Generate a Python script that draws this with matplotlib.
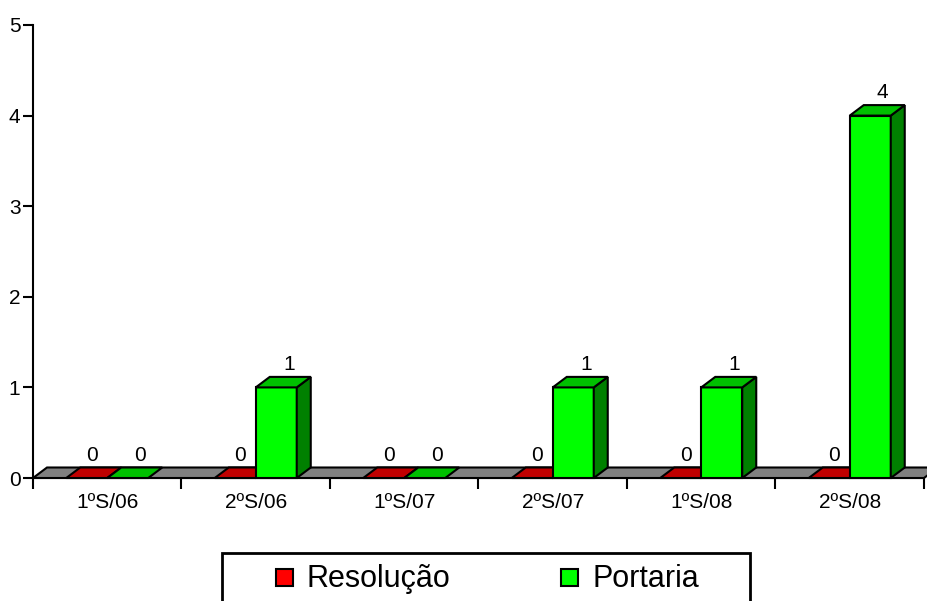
import matplotlib
matplotlib.use("Agg")
import matplotlib.pyplot as plt
from matplotlib.patches import Polygon, Rectangle

categories = ["1ºS/06", "2ºS/06", "1ºS/07", "2ºS/07", "1ºS/08", "2ºS/08"]
resolucao = [0, 0, 0, 0, 0, 0]
portaria = [0, 1, 0, 1, 1, 4]
series_names = ["Resolução", "Portaria"]
yticks = [0, 1, 2, 3, 4, 5]

plt.rcParams['font.family'] = ['Liberation Sans', 'DejaVu Sans']

W, H = 928, 601
fig = plt.figure(figsize=(W / 100, H / 100), dpi=100)
ax = fig.add_axes([33 / W, (H - 478) / H, 891 / W, (478 - 25) / H])
ax.set_xlim(0, len(categories))
ax.set_ylim(0, 5)

# 3D depth offset (in data units)
dx = 14 / 148.5
dy = 10.5 / 90.6
bw = 41 / 148.5

series = [
    (resolucao, "#FF0000", "#C00000", "#800000", -1.5),
    (portaria, "#00FF00", "#00C000", "#008000", 4.0),
]

lw = 1.5
# floor
ax.add_patch(Polygon([(0, 0), (len(categories), 0), (len(categories) + dx, dy), (dx, dy)],
                     closed=True, facecolor="#808080", edgecolor="black", lw=lw,
                     clip_on=False, zorder=1))

for i, cat in enumerate(categories):
    c = i + 0.5
    for j, (vals, front, top, side, lab_dx) in enumerate(series):
        v = vals[i]
        x0 = c - bw + j * bw
        z = 2 + i * 2 + j
        if v > 0:
            ax.add_patch(Rectangle((x0, 0), bw, v, facecolor=front, edgecolor="black",
                                   lw=lw, clip_on=False, zorder=z))
            ax.add_patch(Polygon([(x0 + bw, 0), (x0 + bw + dx, dy), (x0 + bw + dx, v + dy), (x0 + bw, v)],
                                 closed=True, facecolor=side, edgecolor="black", lw=lw,
                                 clip_on=False, zorder=z))
        ax.add_patch(Polygon([(x0, v), (x0 + bw, v), (x0 + bw + dx, v + dy), (x0 + dx, v + dy)],
                             closed=True, facecolor=top, edgecolor="black", lw=lw,
                             clip_on=False, zorder=z))
        ax.annotate(str(v), (x0 + bw / 2 + dx / 2, v + dy), xytext=(lab_dx, 2),
                    textcoords="offset points", ha="center", va="bottom",
                    fontsize=15, zorder=30)

for s in ["top", "right"]:
    ax.spines[s].set_visible(False)
ax.spines["left"].set_linewidth(1.5)
ax.spines["bottom"].set_linewidth(1.5)
ax.spines["bottom"].set_zorder(0.5)

ax.set_yticks(yticks)
ax.set_yticklabels([str(t) for t in yticks], fontsize=15)
ax.tick_params(axis="y", length=7, width=1.5, pad=2)

ax.set_xticks(range(len(categories) + 1))
ax.set_xticklabels([])
ax.set_xticks([i + 0.5 for i in range(len(categories))], minor=True)
ax.set_xticklabels(categories, minor=True, fontsize=15)
ax.tick_params(axis="x", which="major", length=8, width=1.5, direction="out")
ax.tick_params(axis="x", which="minor", length=0, pad=11)

# Legend (manual box, clipped at bottom like the reference)
fig.patches.append(Rectangle((222 / W, (H - 615) / H), (750 - 222) / W, (615 - 553) / H,
                             transform=fig.transFigure, facecolor="white",
                             edgecolor="black", lw=2, figure=fig))
legend_cols = [(276, 307, "#FF0000"), (561, 593, "#00FF00")]
for (lx, tx, col), name in zip(legend_cols, series_names):
    fig.patches.append(Rectangle((lx / W, (H - 586) / H), 17 / W, 17 / H,
                                 transform=fig.transFigure, facecolor=col,
                                 edgecolor="black", lw=1.5, figure=fig))
    fig.text(tx / W, (H - 587) / H, name, fontsize=22, va="baseline", ha="left")

fig.savefig("out.png", dpi=100)
